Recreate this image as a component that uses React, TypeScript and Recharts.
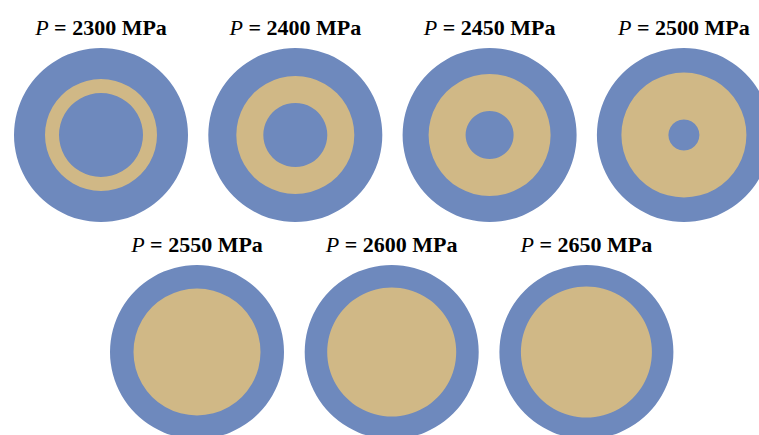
import React from "react"
import { PieChart, Pie, Cell } from "recharts"

// pressure of each panel (MPa)
const pressures = [2300, 2400, 2450, 2500, 2550, 2600, 2650]
// radius of the tan (transformed) zone, outer and inner edge, in px of the 87px disk
const tanOuter = [56, 59, 61, 62.5, 63.5, 64.5, 65.5]
const tanInner = [42, 32, 24, 15.5, 0, 0, 0]

const BLUE = "#6e89bd"
const TAN = "#d0b886"
const DISK_R = 87

const W = 759
const H = 435

// panel centres: 4 on top, 3 below
function centre(i: number) {
  if (i < 4) return { x: 101 + i * 194.3, y: 135 }
  return { x: 197 + (i - 4) * 194.7, y: 352 }
}

const renderTitle = (p: number) => (props: any) => {
  const { cx, cy } = props
  return (
    <text
      x={cx}
      y={cy - DISK_R - 13.5}
      textAnchor="middle"
      fontFamily="'Liberation Serif', 'DejaVu Serif', serif"
      fontSize={22}
      fontWeight="bold"
      fill="#000"
    >
      <tspan fontStyle="italic" fontWeight="normal">P</tspan>
      <tspan> = {p} MPa</tspan>
    </text>
  )
}

export default function App() {
  return (
    <div style={{ position: "absolute", left: 0, top: 0, width: W, height: H, background: "#fff", overflow: "hidden" }}>
      <PieChart width={W} height={H} margin={{ top: 0, right: 0, bottom: 0, left: 0 }}>
        {pressures.map((p, i) => {
          const c = centre(i)
          return (
            <Pie
              key={"disk" + p}
              data={[{ name: "disk", value: 1 }]}
              dataKey="value"
              cx={c.x}
              cy={c.y}
              innerRadius={0}
              outerRadius={DISK_R}
              startAngle={90}
              endAngle={450}
              stroke="none"
              label={renderTitle(p)}
              labelLine={false}
              isAnimationActive={false}
            >
              <Cell fill={BLUE} />
            </Pie>
          )
        })}
        {pressures.map((p, i) => {
          const c = centre(i)
          return (
            <Pie
              key={"tan" + p}
              data={[{ name: "tan", value: 1 }]}
              dataKey="value"
              cx={c.x}
              cy={c.y}
              innerRadius={tanInner[i]}
              outerRadius={tanOuter[i]}
              startAngle={90}
              endAngle={450}
              stroke="none"
              isAnimationActive={false}
            >
              <Cell fill={TAN} />
            </Pie>
          )
        })}
      </PieChart>
    </div>
  )
}
